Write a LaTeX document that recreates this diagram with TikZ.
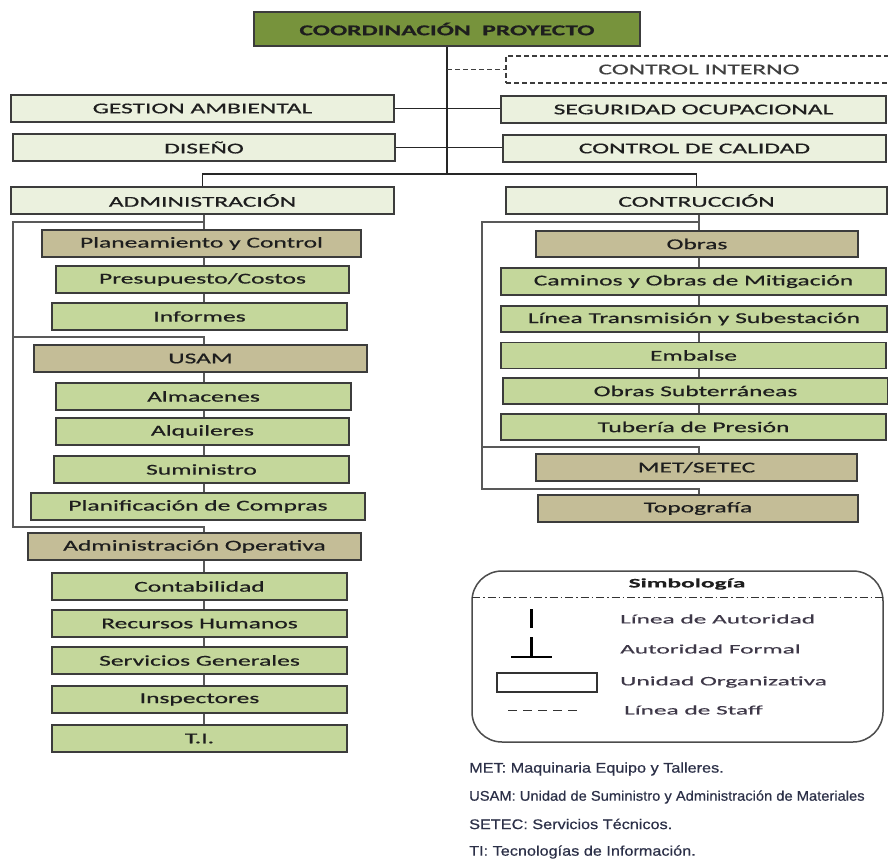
\documentclass[tikz,border=0pt]{standalone}
\usepackage{fontspec}
\setmainfont{Carlito}
\newfontfamily\boxfont[FakeStretch=1.7,FakeBold=0.6]{Carlito}
\newfontfamily\legfont[FakeStretch=1.95,FakeBold=0.4]{Carlito}
\newfontfamily\notefont[FakeStretch=1.16,FakeBold=0.5]{Liberation Sans}
\newfontfamily\notenarrow[FakeStretch=1.05,FakeBold=0.5]{Liberation Sans}
\definecolor{coordgreen}{HTML}{77933C}
\definecolor{palegreen}{HTML}{EBF1DE}
\definecolor{midgreen}{HTML}{C4D79B}
\definecolor{headtan}{HTML}{C4BD97}
\definecolor{boxline}{HTML}{3C3C3C}
\definecolor{boxtext}{HTML}{1E1E1E}
\definecolor{legtext}{HTML}{3E3848}
\definecolor{notetext}{HTML}{2C3048}
\begin{document}
\begin{tikzpicture}[x=1pt,y=-1pt,
  box/.style={draw=boxline, line width=1.3pt, inner sep=0pt, minimum height=27pt,
    text=boxtext, font=\boxfont\fontsize{15}{18}\selectfont},
  topbox/.style={box, fill=palegreen},
  headbox/.style={box, fill=headtan},
  subbox/.style={box, fill=midgreen},
  link/.style={line width=1.1pt, black!85},
  staff/.style={line width=1.1pt, black!75, dash pattern=on 5pt off 3pt},
  chain/.style={line width=2.6pt, black!65},
  brack/.style={line width=1.8pt, black!65},
  legitem/.style={anchor=west, inner sep=0pt, text=legtext, font=\legfont\fontsize{13}{15}\selectfont},
  note/.style={anchor=west, inner sep=0pt, text=notetext, font=\notefont\fontsize{14}{16}\selectfont}]
\useasboundingbox (0,0) rectangle (888,861);
\fill[white] (0,0) rectangle (888,861);
\clip (0,0) rectangle (888,861);

\coordinate (bar) at (447,174);
\coordinate (lx) at (204,0);
\coordinate (rx) at (699,0);
\coordinate (la) at (13,222);
\coordinate (lb) at (13,337);
\coordinate (lc) at (13,527);
\coordinate (ra) at (482,222);
\coordinate (rb) at (482,447);
\coordinate (rc) at (482,489);

\node[box, fill=coordgreen, minimum width=386pt, minimum height=34pt,
  font=\boxfont\bfseries\fontsize{15}{18}\selectfont] (coord) at (447,29) {COORDINACIÓN~~PROYECTO};
\node[box, staff, draw=boxline, minimum width=386pt] (ctrl) at (699,69.5) {CONTROL INTERNO};
\node[topbox, minimum width=383pt] (gest) at (202.5,108.5) {GESTION AMBIENTAL};
\node[topbox, minimum width=385pt] (segur) at (693.5,109.5) {SEGURIDAD OCUPACIONAL};
\node[topbox, minimum width=382pt] (dis) at (204,147.5) {DISEÑO};
\node[topbox, minimum width=383pt] (calid) at (694.5,148.5) {CONTROL DE CALIDAD};
\node[topbox, minimum width=383pt] (admin) at (202.5,200.5) {ADMINISTRACIÓN};
\node[topbox, minimum width=381pt] (constr) at (696.5,200.5) {CONTRUCCIÓN};

\node[headbox, minimum width=319pt] (plan) at (201.5,243.5) {Planeamiento y Control};
\node[subbox, minimum width=293pt] (presup) at (202.5,279.5) {Presupuesto/Costos};
\node[subbox, minimum width=295pt] (inf) at (199.5,316.5) {Informes};
\node[headbox, minimum width=333pt] (usam) at (200.5,358.5) {USAM};
\node[subbox, minimum width=295pt] (alm) at (203.5,396.5) {Almacenes};
\node[subbox, minimum width=293pt] (alq) at (202.5,431.5) {Alquileres};
\node[subbox, minimum width=295pt] (sum) at (201.5,469.5) {Suministro};
\node[subbox, minimum width=334pt] (compras) at (198,506.5) {Planificación de Compras};
\node[headbox, minimum width=333pt] (admop) at (194.5,546.5) {Administración Operativa};
\node[subbox, minimum width=295pt] (cont) at (199.5,586.5) {Contabilidad};
\node[subbox, minimum width=295pt] (rrhh) at (199.5,623.5) {Recursos Humanos};
\node[subbox, minimum width=295pt] (servg) at (199.5,660.5) {Servicios Generales};
\node[subbox, minimum width=295pt] (insp) at (199.5,699.5) {Inspectores};
\node[subbox, minimum width=295pt] (ti) at (199.5,738.5) {T.I.};

\node[headbox, minimum width=322pt, minimum height=26pt] (obras) at (697,244) {Obras};
\node[subbox, minimum width=385pt] (camin) at (693.5,281.5) {Caminos y Obras de Mitigación};
\node[subbox, minimum width=386pt, minimum height=26pt] (linea) at (694,319) {Línea Transmisión y Subestación};
\node[subbox, minimum width=385pt, minimum height=26pt] (emb) at (693.5,355.5) {Embalse};
\node[subbox, minimum width=385pt, minimum height=26pt] (subt) at (695.5,391) {Obras Subterráneas};
\node[subbox, minimum width=385pt, minimum height=26pt] (tub) at (693.5,427) {Tubería de Presión};
\node[headbox, minimum width=321pt] (met) at (696.5,467.5) {MET/SETEC};
\node[headbox, minimum width=320pt] (topo) at (698,508.5) {Topografía};

\draw[link] (coord.south) -- (bar);
\draw[staff] (coord.south |- ctrl.west) -- (ctrl.west);
\draw[link] (gest.east) -- (segur.west |- gest.east);
\draw[link] (dis.east) -- (calid.west |- dis.east);
\draw[link] (admin.north) |- (bar) -| (constr.north);

\draw[chain] (admin.south -| lx) -- (plan.north -| lx);
\draw[brack] (la -| lx) -- (la) -- (lc) -| (admop.north -| lx);
\draw[brack] (lb) -| (usam.north -| lx);
\foreach \a/\b in {plan/presup,presup/inf,usam/alm,alm/alq,alq/sum,sum/compras,
  admop/cont,cont/rrhh,rrhh/servg,servg/insp,insp/ti}
  \draw[chain] (\a.south -| lx) -- (\b.north -| lx);

\draw[chain] (constr.south -| rx) -- (obras.north -| rx);
\draw[brack] (ra -| rx) -- (ra) -- (rc) -| (topo.north -| rx);
\draw[brack] (rb) -| (met.north -| rx);
\foreach \a/\b in {obras/camin,camin/linea,linea/emb,emb/subt,subt/tub}
  \draw[chain] (\a.south -| rx) -- (\b.north -| rx);

\draw[line width=1.5pt, black!70, rounded corners=30pt] (472,571) rectangle (883,742);
\node[text=boxtext, font=\legfont\bfseries\fontsize{13}{15}\selectfont] (simb) at (687,584) {Simbología};
\draw[line width=1pt, black!80, dash pattern=on 8pt off 3pt on 1.5pt off 3pt] (472,597) -- (883,597);
\draw[line width=3pt, black] (531,609) -- (531,628);
\draw[line width=3pt, black] (531,637) -- (531,657);
\draw[line width=2.5pt, black] (511,657) -- (552,657);
\draw[line width=1.5pt, black!80] (497,673) rectangle (597,692);
\draw[line width=1pt, black!80, dash pattern=on 9pt off 6pt] (508,710) -- (580,710);
\node[legitem] (lautor) at (620,619) {Línea de Autoridad};
\node[legitem] (lformal) at (620,649) {Autoridad Formal};
\node[legitem] (lunidad) at (620,682) {Unidad Organizativa};
\node[legitem] (lstaff) at (624,710) {Línea de Staff};

\node[note] (nmet) at (469,769) {MET: Maquinaria Equipo y Talleres.};
\node[note, font=\notenarrow\fontsize{14}{16}\selectfont] (nusam) at (469,797) {USAM: Unidad de Suministro y Administración de Materiales};
\node[note] (nsetec) at (469,824) {SETEC: Servicios Técnicos.};
\node[note] (nti) at (469,852) {TI: Tecnologías de Información.};
\end{tikzpicture}
\end{document}
